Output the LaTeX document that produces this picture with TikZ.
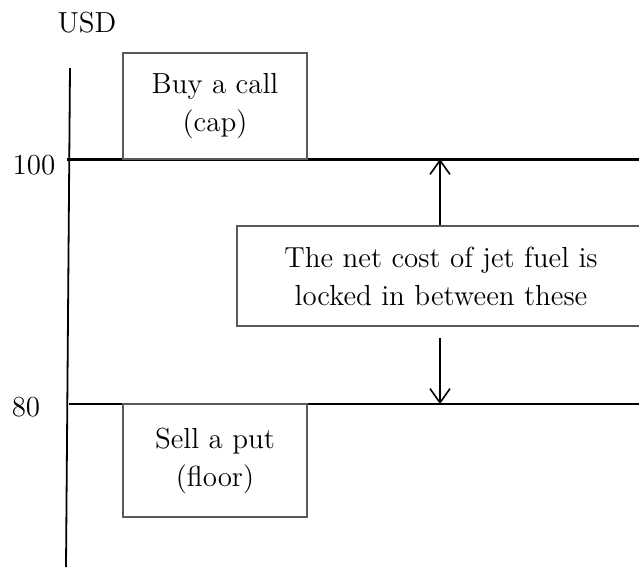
\documentclass[tikz,border=0pt]{standalone}
\usepackage{tikz}
\usetikzlibrary{arrows.meta}

\begin{document}
\begin{tikzpicture}[x=0.5pt, y=-0.5pt,
    every node/.style={font=\fontsize{14.5}{19}\selectfont},
    optbox/.style={draw=boxgray, line width=0.6pt, align=center, inner sep=0pt},
    level/.style={draw, line cap=rect},
    gap/.style={draw, line width=0.8pt, -{Straight Barb[length=7pt, width=10pt, line width=0.8pt]}}]
    \def\xa{70}
    \def\ya{159}
    \def\yb{404}
    \def\xr{639}
    \def\xm{440}
    \definecolor{boxgray}{RGB}{90, 90, 90}

    \useasboundingbox (0,0) rectangle (639,569);

    % Price axis
    \coordinate (axtop) at (\xa, 68);
    \coordinate (axbot) at (66, 567);
    \draw[line width=0.9pt] (axtop) -- (axbot);
    \node (usd) at (87, 23) {USD};

    % The two price levels
    \node (lab100) at (34, 165) {100};
    \node (lab80) at (26, 407) {80};
    \coordinate (capl) at (68, \ya);
    \coordinate (capr) at (\xr, \ya);
    \coordinate (floorl) at (\xa, \yb);
    \coordinate (floorr) at (\xr, \yb);
    \draw[level, line width=1.5pt] (capl) -- (capr);
    \draw[level, line width=1pt] (floorl) -- (floorr);

    % Option boxes on the levels
    \node[optbox, minimum width=92pt, minimum height=53pt] (cap) at (215, 106) {Buy a call\\(cap)};
    \node[optbox, minimum width=92pt, minimum height=56.5pt] (floor) at (215, 460.5) {Sell a put\\(floor)};

    % The band between cap and floor
    \node[optbox, minimum width=204pt, minimum height=50pt] (band) at (441, 276) {The net cost of jet fuel is\\locked in between these};
    \coordinate (hi) at (\xm, \ya);
    \coordinate (lo) at (\xm, \yb);
    \coordinate (gapend) at (\xm, 338);
    \draw[gap] (band.north -| hi) -- (hi);
    \draw[gap] (gapend) -- (lo);
\end{tikzpicture}
\end{document}
